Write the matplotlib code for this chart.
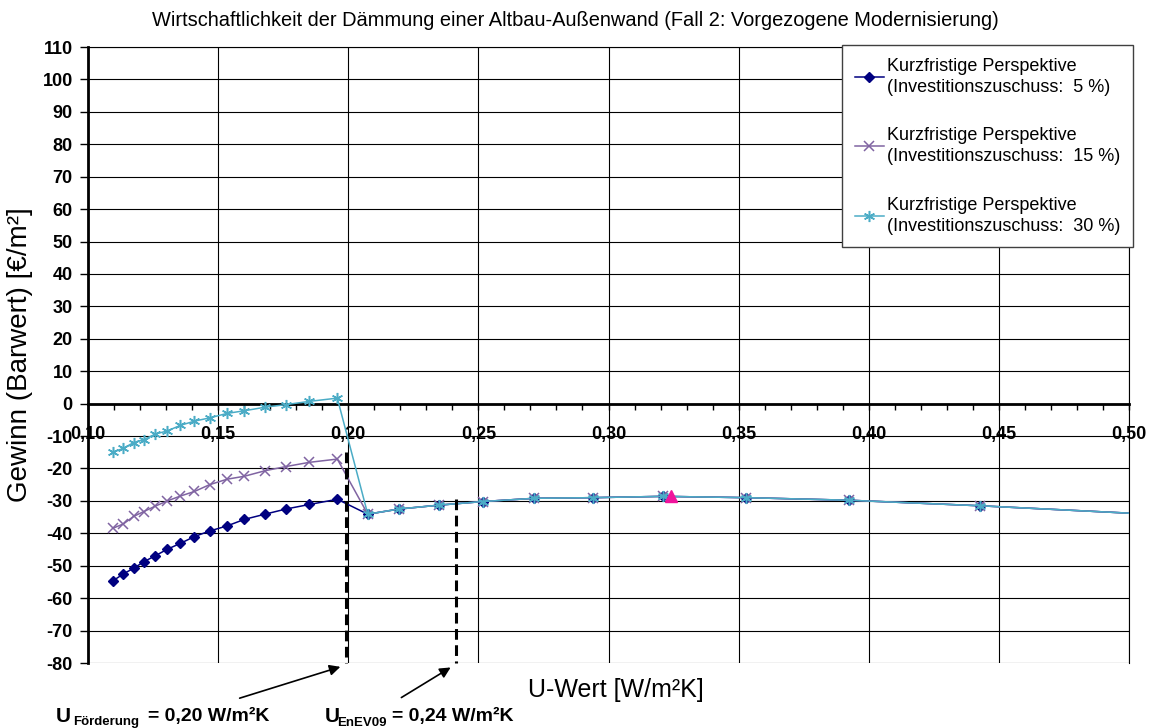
import numpy as np
import matplotlib
matplotlib.use("Agg")
from matplotlib import pyplot as plt
from matplotlib.ticker import MultipleLocator, FuncFormatter

plt.rcParams['font.family'] = ['Liberation Sans', 'DejaVu Sans']
plt.rcParams['axes.unicode_minus'] = False

# U-Werte mit unterschiedlichen Ergebnissen je Zuschuss (links von 0,20)
u_short = [0.1097, 0.1136, 0.1175, 0.1214, 0.1259, 0.1305, 0.1355, 0.1409,
           0.1467, 0.1535, 0.1601, 0.1680, 0.1761, 0.1851, 0.1958]
g_5 = [-54.6, -52.5, -50.8, -48.8, -46.9, -44.9, -43.1, -41.0,
       -39.3, -37.7, -35.7, -34.1, -32.5, -31.1, -29.5]
g_15 = [-38.4, -37.1, -34.8, -33.3, -31.6, -30.0, -28.5, -27.1,
        -25.0, -23.3, -22.4, -20.7, -19.4, -18.1, -17.1]
g_30 = [-14.9, -13.8, -12.0, -11.1, -9.4, -8.4, -6.7, -5.4,
        -4.4, -3.0, -2.2, -1.1, -0.3, 0.7, 1.7]

# gemeinsamer Verlauf (ohne Foerderung), letzter Punkt liegt ausserhalb
u_long = [0.2075, 0.2196, 0.2350, 0.2517, 0.2715, 0.2942, 0.3211,
          0.3529, 0.3926, 0.4426, 0.5080]
g_long = [-34.1, -32.5, -31.3, -30.2, -29.2, -29.0, -28.6,
          -29.0, -29.8, -31.5, -34.1]

opt_u = [0.324]
opt_g = [-28.6]

ref_u = [0.199, 0.2415]
ref_top = [-15, -29.5]

labels = ["Kurzfristige Perspektive\n(Investitionszuschuss:  5 %)",
          "Kurzfristige Perspektive\n(Investitionszuschuss:  15 %)",
          "Kurzfristige Perspektive\n(Investitionszuschuss:  30 %)"]

fig = plt.figure(figsize=(11.54, 7.28), dpi=100)
W, H = 1154, 728
ax = fig.add_axes([88 / W, 1 - 663 / H, (1129 - 88) / W, (663 - 47) / H])

u_all = u_short + u_long
l1, = ax.plot(u_all, g_5 + g_long, color='#000080', lw=1.1, marker='D',
              markersize=5, zorder=4)
l2, = ax.plot(u_all, g_15 + g_long, color='#8064A2', lw=1.1, marker='x',
              markersize=7, markeredgewidth=1.1, zorder=5)
l3, = ax.plot(u_all, g_30 + g_long, color='#4BACC6', lw=1.1, marker=(6, 2, 0),
              markersize=8, markeredgewidth=1.1, zorder=6)
ax.plot(opt_u, opt_g, linestyle='none', marker='^', color='#F0149C',
        markersize=9, zorder=7)

for u, top in zip(ref_u, ref_top):
    ax.plot([u, u], [top, -80], color='black', lw=2.2,
            linestyle=(0, (3.5, 1.8)), zorder=8, clip_on=False)

ax.set_xlim(0.10, 0.50)
ax.set_ylim(-80, 110)
ax.xaxis.set_major_locator(MultipleLocator(0.05))
ax.xaxis.set_minor_locator(MultipleLocator(0.01))
ax.yaxis.set_major_locator(MultipleLocator(10))
ax.xaxis.set_major_formatter(FuncFormatter(lambda v, p: ('%.2f' % v).replace('.', ',')))
ax.grid(True, which='major', color='black', lw=0.8)
ax.set_axisbelow(True)

ax.spines['bottom'].set_position(('data', 0))
ax.spines['bottom'].set_linewidth(2)
ax.spines['left'].set_linewidth(2)
ax.spines['top'].set_linewidth(0.8)
ax.spines['right'].set_linewidth(0.8)

ax.tick_params(axis='x', which='major', direction='out', length=4, width=1,
               pad=12, labelsize=13)
ax.tick_params(axis='x', which='minor', direction='out', length=4, width=1)
ax.tick_params(axis='y', direction='out', length=6, width=1, pad=5,
               labelsize=13)
for t in ax.get_xticklabels() + ax.get_yticklabels():
    t.set_fontweight('bold')

leg = ax.legend([l1, l2, l3], labels, loc='upper left',
                bbox_to_anchor=(842 / W, 1 - 45 / H),
                bbox_transform=fig.transFigure, fontsize=13,
                frameon=True, fancybox=False, framealpha=1, borderpad=0.7,
                handlelength=1.6, handletextpad=0.2, labelspacing=1.75,
                borderaxespad=0)
for t in leg.get_texts():
    t.set_linespacing(1.3)
leg.get_frame().set_edgecolor('#404040')
leg.get_frame().set_linewidth(1)
leg.set_zorder(10)

fig.text(575 / W, 1 - 20 / H,
         "Wirtschaftlichkeit der Dämmung einer Altbau-Außenwand (Fall 2: Vorgezogene Modernisierung)",
         ha='center', va='center', fontsize=14.4)
fig.text(616 / W, 1 - 690 / H, "U-Wert [W/m²K]", ha='center', va='center',
         fontsize=18)
fig.text(20 / W, 1 - 355 / H, "Gewinn (Barwert) [€/m²]", ha='center',
         va='center', rotation=90, fontsize=20)

# Beschriftung der Grenzwerte
fig.text(56 / W, 6.5 / H, "U", fontsize=15, fontweight='bold', va='baseline')
fig.text(73 / W, 2.5 / H, "Förderung", fontsize=9.5, fontweight='bold', va='baseline')
fig.text(148 / W, 6.5 / H, "= 0,20 W/m²K", fontsize=14, fontweight='bold', va='baseline')
fig.text(325 / W, 6.5 / H, "U", fontsize=15, fontweight='bold', va='baseline')
fig.text(337 / W, 2.5 / H, "EnEV09", fontsize=9.5, fontweight='bold', va='baseline')
fig.text(392 / W, 6.5 / H, "= 0,24 W/m²K", fontsize=14, fontweight='bold', va='baseline')

arrow = dict(arrowstyle='-|>', color='black', lw=1.2, mutation_scale=16)
ax.annotate('', xy=(343, 62), xycoords='figure pixels',
            xytext=(237, 29), textcoords='figure pixels', arrowprops=arrow)
ax.annotate('', xy=(453, 62), xycoords='figure pixels',
            xytext=(399, 29), textcoords='figure pixels', arrowprops=arrow)

fig.savefig('out.png', dpi=100)
